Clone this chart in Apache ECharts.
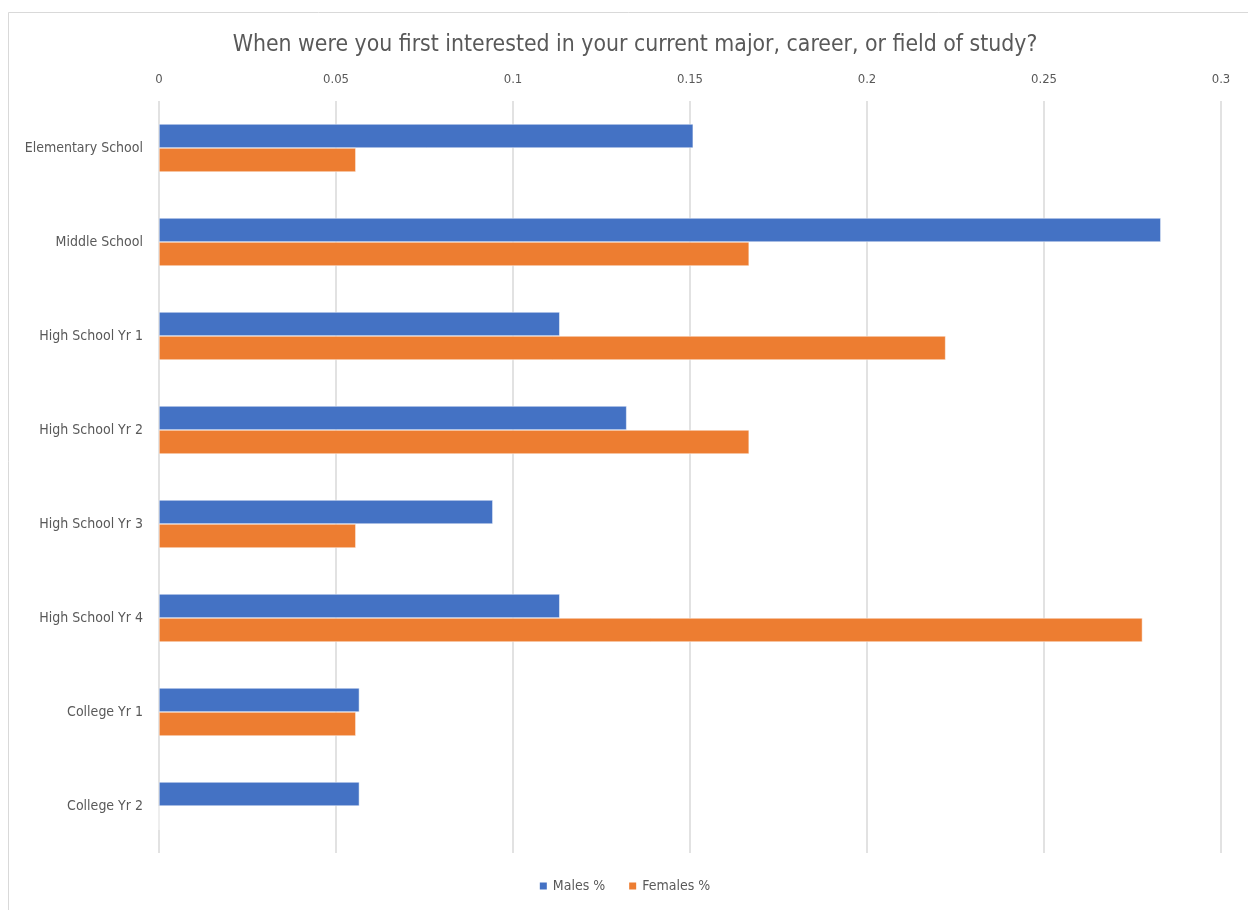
<!DOCTYPE html>
<html>
<head>
<meta charset="utf-8">
<script src="https://cdn.jsdelivr.net/npm/echarts@6/dist/echarts.min.js"></script>
<style>
html,body{margin:0;padding:0;background:#fff;}
#chart{width:1248px;height:910px;}
</style>
</head>
<body>
<div id="chart"></div>
<script>
const categories = ["Elementary School","Middle School","High School Yr 1","High School Yr 2","High School Yr 3","High School Yr 4","College Yr 1","College Yr 2"];
const malesPct = [0.1509, 0.2830, 0.1132, 0.1321, 0.0943, 0.1132, 0.0566, 0.0566];
const femalesPct = [0.0556, 0.1667, 0.2222, 0.1667, 0.0556, 0.2778, 0.0556, 0];
const xTicks = {min: 0, max: 0.3, interval: 0.05};
const titleText = "When were you first interested in your current major, career, or field of study?";

const FONT = "'Liberation Sans Narrow', 'DejaVu Sans Condensed', 'Noto Sans', sans-serif";
const chart = echarts.init(document.getElementById('chart'));
chart.setOption({
  animation: false,
  backgroundColor: '#fff',
  title: {
    text: titleText,
    left: 630, top: 29, textAlign: 'center',
    textStyle: {fontFamily: FONT, fontSize: 22.8, fontWeight: 'normal', color: '#595959'}
  },
  graphic: [{
    type: 'rect', shape: {x: 8.5, y: 12.5, width: 1400, height: 1200},
    style: {fill: 'none', stroke: '#d9d9d9', lineWidth: 1}, silent: true
  }],
  legend: {
    bottom: 12, left: 'center', itemWidth: 9, itemHeight: 9, itemGap: 22,
    icon: 'rect',
    textStyle: {fontFamily: FONT, fontSize: 14, color: '#595959'},
    data: ['Males %', 'Females %']
  },
  grid: {left: 159, right: 27, top: 101, bottom: 57, containLabel: false},
  xAxis: {
    type: 'value', position: 'top', min: xTicks.min, max: xTicks.max, interval: xTicks.interval,
    axisLine: {show: false}, axisTick: {show: false},
    axisLabel: {fontFamily: FONT, fontSize: 13, color: '#595959', margin: 15},
    splitLine: {show: true, lineStyle: {color: '#d9d9d9', width: 1.5}}
  },
  yAxis: {
    type: 'category', data: categories, inverse: true,
    axisLine: {show: false}, axisTick: {show: false},
    axisLabel: {fontFamily: FONT, fontSize: 14, color: '#595959', margin: 16}
  },
  series: [
    {name: 'Males %', type: 'bar', data: malesPct, barGap: '0%', barCategoryGap: '49%',
     itemStyle: {color: '#4472C4', borderColor: '#ffffff', borderWidth: 0.5}},
    {name: 'Females %', type: 'bar', data: femalesPct,
     itemStyle: {color: '#ED7D31', borderColor: '#ffffff', borderWidth: 0.5}}
  ]
});
</script>
</body>
</html>
